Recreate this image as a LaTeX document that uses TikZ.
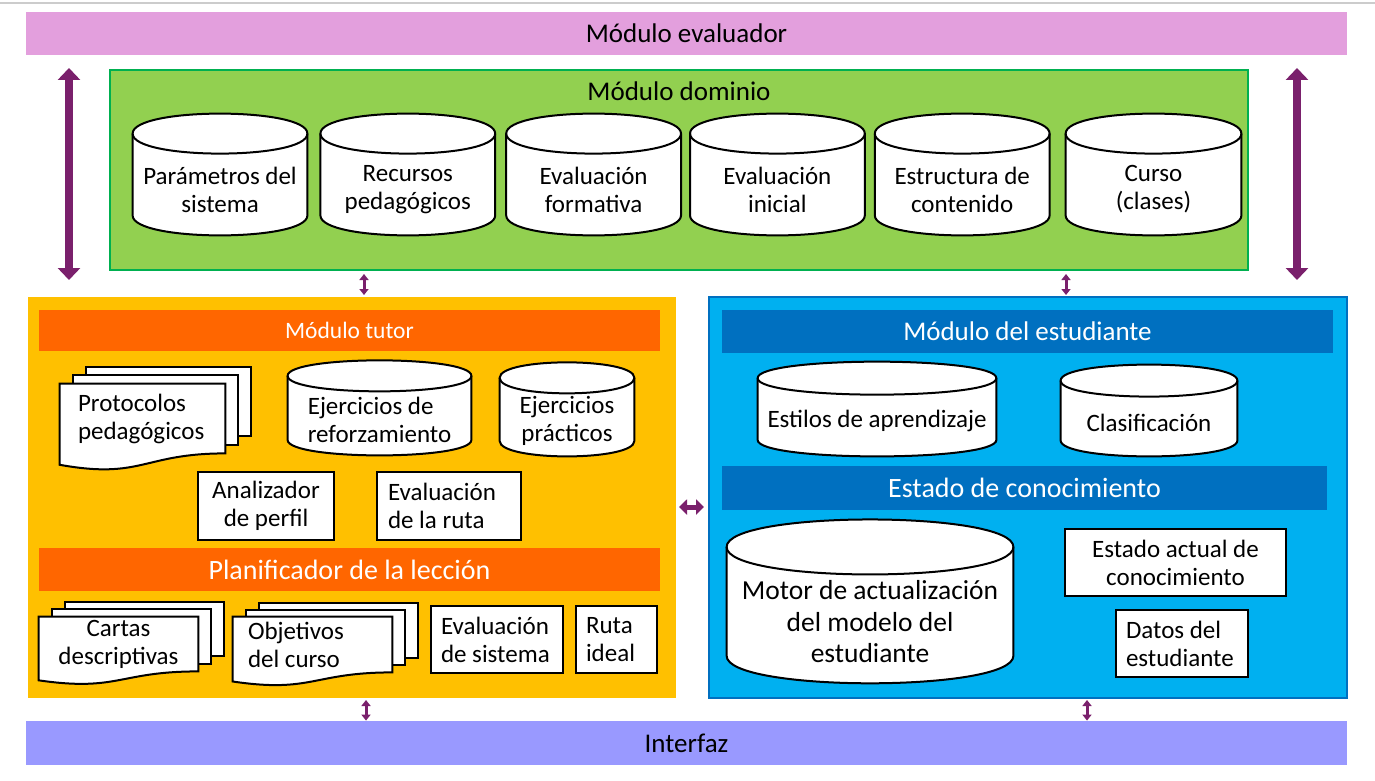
\documentclass[tikz,border=0pt]{standalone}
\usepackage{fontspec}
\setmainfont{Carlito}
\usepackage{tikz}
\usetikzlibrary{arrows.meta,backgrounds,calc,positioning}
\definecolor{evalpink}{RGB}{227,159,221}
\definecolor{domgreen}{RGB}{146,208,80}
\definecolor{domedge}{RGB}{0,176,80}
\definecolor{tutoryellow}{RGB}{255,192,0}
\definecolor{tutorbar}{RGB}{255,102,0}
\definecolor{stdblue}{RGB}{0,176,240}
\definecolor{stdbar}{RGB}{0,112,192}
\definecolor{ifzviolet}{RGB}{153,153,255}
\definecolor{arrowpurple}{RGB}{122,32,108}
\definecolor{rulegray}{RGB}{204,204,204}
\newcommand{\bodyfont}{\fontsize{12.5}{14}\selectfont}
\newcommand{\ttlfont}{\fontsize{13.5}{16}\selectfont}
\newcommand{\tutfont}{\fontsize{11.75}{14}\selectfont}
\newcommand{\planfont}{\fontsize{14}{16}\selectfont}
\newcommand{\motorfont}{\fontsize{13.75}{15.75}\selectfont}
\pgfdeclarelayer{panel}
\pgfsetlayers{panel,background,main}

\begin{document}
\begin{tikzpicture}[x=0.5pt,y=-0.5pt]
    \tikzstyle{panel}=[inner sep=0pt,line width=1pt] %
    \tikzstyle{bar}=[inner sep=0pt,minimum height=21.5pt] %
    \tikzstyle{db}=[inner sep=0pt,align=center,font=\bodyfont] %
    \tikzstyle{doc}=[inner sep=0pt,font=\bodyfont] %
    \tikzstyle{box}=[draw,fill=white,line width=1pt,inner sep=0pt,%
    minimum height=33.5pt,font=\bodyfont] %
    \tikzstyle{shapeline}=[draw=black,fill=white,line width=1pt] %
    \tikzstyle{bigarr}=[draw=arrowpurple,line width=4pt,%
    {Triangle[width=11pt,length=6pt]}-{Triangle[width=11pt,length=6pt]}] %
    \tikzstyle{midarr}=[draw=arrowpurple,line width=2.5pt,%
    {Triangle[width=7.5pt,length=4pt]}-{Triangle[width=7.5pt,length=4pt]}] %
    \tikzstyle{smallarr}=[draw=arrowpurple,line width=1.5pt,%
    {Triangle[width=4.5pt,length=3pt]}-{Triangle[width=4.5pt,length=3pt]}] %

    \useasboundingbox (0,0) rectangle (1375,781);

    \begin{pgfonlayer}{panel}
      \fill[white] (0,0) rectangle (1375,781);
      \draw[rulegray,line width=1pt] (0,3) -- (1375,3);
      \node[panel,fill=domgreen,draw=domedge,minimum width=569pt,%
        minimum height=100pt] (dominio) at (679,170) {};
      \node[panel,fill=tutoryellow,minimum width=324pt,%
        minimum height=200.5pt] (tutor) at (352,497.5) {};
      \node[panel,fill=stdblue,draw=stdbar,minimum width=319pt,%
        minimum height=200.5pt] (estudiante) at (1028,497.5) {};
    \end{pgfonlayer}

    % bars and titles
    \node[bar,fill=evalpink,minimum width=660.5pt,font=\ttlfont]
      (evaluador) at (686.5,33.5) {Módulo evaluador};
    \node[font=\ttlfont] (domtitle) at (679,91) {Módulo dominio};
    \node[bar,fill=ifzviolet,minimum width=660.5pt,minimum height=22pt,%
      font=\ttlfont] (interfaz) at (686.5,743) {Interfaz};
    \node[bar,fill=tutorbar,text=white,minimum width=310.5pt,%
      minimum height=20.5pt,font=\tutfont] (tutortitle) at (349.5,330.5)
      {Módulo tutor};
    \node[bar,fill=tutorbar,text=white,minimum width=310.5pt,%
      font=\planfont] (plan) at (349.5,569.5) {Planificador de la lección};
    \node[bar,fill=stdbar,text=white,minimum width=305.5pt,font=\ttlfont]
      (esttitle) at (1027.5,331.5) {Módulo del estudiante};
    \node[bar,fill=stdbar,text=white,minimum width=302.5pt,%
      minimum height=22pt,font=\planfont] (conoc) at (1024.5,488)
      {Estado de conocimiento};

    % modulo dominio
    \node[db,minimum width=87pt,minimum height=45.5pt] (param)
      at (220,189.5) {Parámetros del\\sistema};
    \node[db,minimum width=87pt,minimum height=45.5pt] (recur)
      [right=6.5pt of param] {Recursos\\pedagógicos};
    \node[db,minimum width=87pt,minimum height=45.5pt] (formt)
      [right=5.5pt of recur] {Evaluación\\formativa};
    \node[db,minimum width=87pt,minimum height=45.5pt] (inicl)
      [right=4.5pt of formt] {Evaluación\\inicial};
    \node[db,minimum width=87pt,minimum height=45.5pt] (estru)
      [right=5pt of inicl] {Estructura de\\contenido};
    \node[db,minimum width=87.5pt,minimum height=45.5pt] (curso)
      [right=8pt of estru] {Curso\\(clases)};

    % modulo tutor
    \node[doc,minimum width=82.5pt,minimum height=34.5pt,text width=64.5pt,%
      align=flush left] (protoc) at (142.5,418.5) {Protocolos\\pedagógicos};
    \node[db,align=left,minimum width=91.5pt,minimum height=35.5pt]
      (refuerzo) at (379.5,419.5) {Ejercicios de\\reforzamiento};
    \node[db,minimum width=67pt,minimum height=35pt] (practica)
      at (567,421) {Ejercicios\\prácticos};
    \node[box,minimum width=68pt,minimum height=34pt,align=center]
      (analiz) at (266,506) {Analizador\\de perfil};
    \node[box,minimum width=72pt,minimum height=34pt,text width=61pt,%
      align=flush left] (evruta) at (449,506) {Evaluación\\de la ruta};
    \node[doc,minimum width=79.5pt,minimum height=27pt,align=center]
      (cartas) at (118.5,644) {Cartas\\descriptivas};
    \node[doc,minimum width=79.5pt,minimum height=27.5pt,text width=64.5pt,%
      align=flush left] (objet) at (312.5,644.5) {Objetivos\\del curso};
    \node[box,minimum width=66pt,text width=56pt,align=flush left]
      (evsist) at (497,639.5) {Evaluación\\de sistema};
    \node[box,minimum width=40.5pt,text width=30.5pt,align=flush left]
      (ruta) at (616.5,639.5) {Ruta\\ideal};

    % modulo del estudiante
    \node[db,minimum width=119pt,minimum height=34.6pt] (estilos)
      at (877,421.4) {Estilos de aprendizaje};
    \node[db,minimum width=88pt,minimum height=33.5pt] (clasif)
      at (1149,422.5) {Clasificación};
    \node[db,minimum width=143pt,minimum height=60.9pt,font=\motorfont]
      (motor) at (870,622) {Motor de actualización\\del modelo del\\estudiante};
    \node[box,minimum width=110.5pt,align=center] (actual)
      at (1175.5,562.5) {Estado actual de\\conocimiento};
    \node[box,minimum width=66pt,text width=56pt,align=flush left] (datos)
      at (1182,643.5) {Datos del\\estudiante};

    \begin{pgfonlayer}{background}
      \foreach \nd/\ry in {param/10pt,recur/10pt,formt/10pt,inicl/10pt,%
          estru/10pt,curso/10pt,refuerzo/7.75pt,practica/7.75pt,%
          estilos/8.25pt,clasif/8pt,motor/13.75pt} {
        \draw[shapeline] ([yshift=.5*\ry]\nd.north west)
          -- ([yshift=\ry]\nd.south west)
          .. controls ([yshift=-.333*\ry]\nd.south west)
          and ([yshift=-.333*\ry]\nd.south east) .. ([yshift=\ry]\nd.south east)
          -- ([yshift=.5*\ry]\nd.north east)
          .. controls ([yshift=1.833*\ry]\nd.north east)
          and ([yshift=1.833*\ry]\nd.north west) .. ([yshift=.5*\ry]\nd.north west)
          -- cycle;
        \draw[shapeline,fill=none] ([yshift=.5*\ry]\nd.north west)
          .. controls ([yshift=-.833*\ry]\nd.north west)
          and ([yshift=-.833*\ry]\nd.north east) .. ([yshift=.5*\ry]\nd.north east);
      }
      \foreach \nd/\dx/\dy/\hh in {protoc/6.5pt/4.25pt/34.5pt,%
          cartas/6.5pt/3.75pt/27pt,objet/6.5pt/3.5pt/27.5pt} {
        \draw[shapeline] ([shift={(2*\dx,2*\dy)}]\nd.north west)
          rectangle ([shift={(2*\dx,2*\dy)}]\nd.south east);
        \draw[shapeline] ([shift={(\dx,\dy)}]\nd.north west)
          rectangle ([shift={(\dx,\dy)}]\nd.south east);
        \draw[shapeline] (\nd.north west) -- (\nd.north east) -- (\nd.south east)
          .. controls (\nd.south) and ([yshift=-.38*\hh]\nd.south)
          .. ([yshift=-.165*\hh]\nd.south west) -- cycle;
      }
    \end{pgfonlayer}

    % arrows
    \draw[bigarr] ([xshift=-20pt,yshift=.5pt]dominio.north west)
      -- ([xshift=-20pt,yshift=-4.5pt]dominio.south west);
    \draw[bigarr] ([xshift=24pt,yshift=.5pt]dominio.north east)
      -- ([xshift=24pt,yshift=-4.5pt]dominio.south east);
    \draw[smallarr,shorten <=1.5pt,shorten >=.5pt]
      ([xshift=127.5pt]dominio.south west)
      -- ([xshift=127.5pt]dominio.south west |- tutor.north);
    \draw[smallarr,shorten <=1.5pt,shorten >=.5pt]
      ([xshift=478.5pt]dominio.south west)
      -- ([xshift=478.5pt]dominio.south west |- estudiante.north);
    \draw[midarr,shorten <=1pt,shorten >=2pt] ([yshift=-4.75pt]tutor.east)
      -- ([yshift=-4.75pt]estudiante.west);
    \draw[smallarr,shorten <=.5pt] ([xshift=169.5pt]tutor.south west)
      -- ([xshift=169.5pt]tutor.south west |- interfaz.north);
    \draw[smallarr,shorten <=.5pt] ([xshift=189.5pt]estudiante.south west)
      -- ([xshift=189.5pt]estudiante.south west |- interfaz.north);
\end{tikzpicture}
\end{document}
